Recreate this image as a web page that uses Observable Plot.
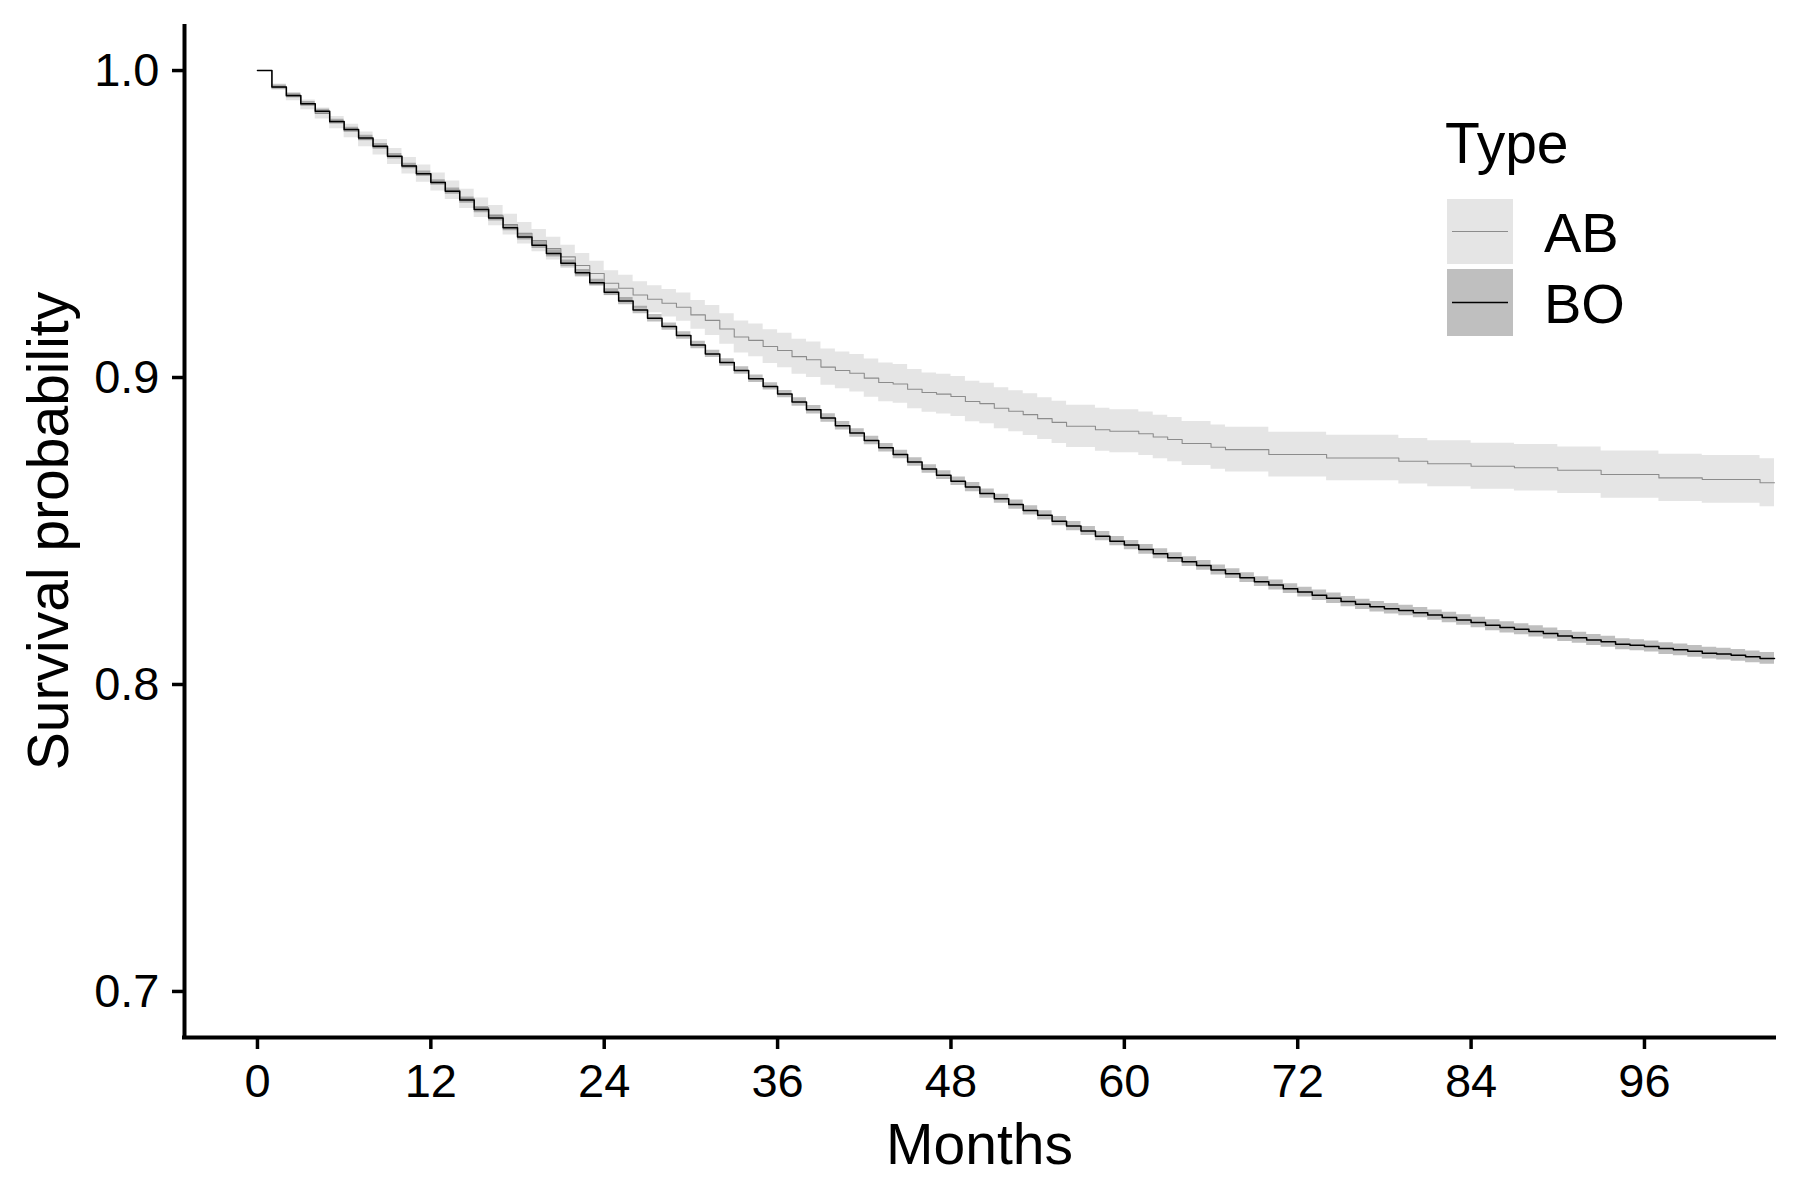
<!DOCTYPE html>
<html>
<head>
<meta charset="utf-8">
<script src="https://cdn.jsdelivr.net/npm/d3@7"></script>
<script src="https://cdn.jsdelivr.net/npm/@observablehq/plot@0.6"></script>
<style>
  html, body { margin: 0; padding: 0; background: #ffffff; }
  #wrap { position: relative; width: 1800px; height: 1200px; font-family: "Liberation Sans", Arial, sans-serif; }
  #legend { position: absolute; left: 0; top: 0; pointer-events: none; }
</style>
</head>
<body>
<div id="wrap"></div>
<script>
// ---------------- data ----------------
const xTicks = [0, 12, 24, 36, 48, 60, 72, 84, 96];
const yTicks = [0.7, 0.8, 0.9, 1.0];
const xDomain = [-5.05, 105];
const yDomain = [0.685, 1.015];
const groups = ["AB", "BO"];

const boMonths = [0,1,2,3,4,5,6,7,8,9,10,11,12,13,14,15,16,17,18,19,20,21,22,23,24,25,26,27,28,29,
  30,31,32,33,34,35,36,37,38,39,40,41,42,43,44,45,46,47,48,49,50,51,52,53,54,55,56,57,58,59,
  60,61,62,63,64,65,66,67,68,69,70,71,72,73,74,75,76,77,78,79,80,81,82,83,84,85,86,87,88,89,
  90,91,92,93,94,95,96,97,98,99,100,101,102,103,104,105];
const boSurv = [1.0000,0.9946,0.9919,0.9892,0.9867,0.9834,0.9808,0.9780,0.9753,0.9721,
  0.9689,0.9664,0.9635,0.9607,0.9578,0.9547,0.9520,0.9488,0.9458,0.9431,
  0.9404,0.9372,0.9341,0.9309,0.9278,0.9249,0.9220,0.9193,0.9166,0.9137,
  0.9106,0.9077,0.9049,0.9023,0.8996,0.8971,0.8946,0.8920,0.8895,0.8868,
  0.8843,0.8819,0.8795,0.8771,0.8749,0.8725,0.8702,0.8682,0.8662,0.8643,
  0.8622,0.8605,0.8586,0.8567,0.8551,0.8532,0.8516,0.8500,0.8483,0.8467,
  0.8454,0.8440,0.8426,0.8413,0.8400,0.8388,0.8373,0.8361,0.8348,0.8335,
  0.8324,0.8312,0.8301,0.8291,0.8281,0.8270,0.8261,0.8253,0.8247,0.8241,
  0.8234,0.8226,0.8218,0.8210,0.8202,0.8193,0.8186,0.8180,0.8173,0.8166,
  0.8158,0.8152,0.8145,0.8139,0.8131,0.8128,0.8124,0.8117,0.8113,0.8108,
  0.8102,0.8099,0.8095,0.8090,0.8085,0.8085];
const boUpper = [1.0000,0.9953,0.9926,0.9899,0.9874,0.9841,0.9815,0.9789,0.9762,0.9730,
  0.9698,0.9673,0.9644,0.9617,0.9588,0.9557,0.9530,0.9498,0.9468,0.9442,
  0.9415,0.9383,0.9352,0.9320,0.9289,0.9261,0.9232,0.9205,0.9178,0.9149,
  0.9118,0.9089,0.9061,0.9035,0.9008,0.8983,0.8958,0.8934,0.8909,0.8882,
  0.8857,0.8833,0.8809,0.8785,0.8763,0.8739,0.8716,0.8696,0.8676,0.8658,
  0.8637,0.8620,0.8601,0.8582,0.8566,0.8547,0.8531,0.8515,0.8498,0.8482,
  0.8469,0.8456,0.8442,0.8429,0.8416,0.8404,0.8389,0.8377,0.8364,0.8351,
  0.8340,0.8328,0.8317,0.8308,0.8298,0.8287,0.8278,0.8270,0.8264,0.8258,
  0.8251,0.8243,0.8235,0.8227,0.8219,0.8211,0.8204,0.8198,0.8191,0.8184,
  0.8176,0.8170,0.8163,0.8157,0.8149,0.8146,0.8142,0.8136,0.8132,0.8127,
  0.8121,0.8118,0.8114,0.8109,0.8104,0.8104];
const boLower = [1.0000,0.9939,0.9912,0.9885,0.9860,0.9827,0.9801,0.9771,0.9744,0.9712,
  0.9680,0.9655,0.9626,0.9597,0.9568,0.9537,0.9510,0.9478,0.9448,0.9420,
  0.9393,0.9361,0.9330,0.9298,0.9267,0.9237,0.9208,0.9181,0.9154,0.9125,
  0.9094,0.9065,0.9037,0.9011,0.8984,0.8959,0.8934,0.8906,0.8881,0.8854,
  0.8829,0.8805,0.8781,0.8757,0.8735,0.8711,0.8688,0.8668,0.8648,0.8628,
  0.8607,0.8590,0.8571,0.8552,0.8536,0.8517,0.8501,0.8485,0.8468,0.8452,
  0.8439,0.8424,0.8410,0.8397,0.8384,0.8372,0.8357,0.8345,0.8332,0.8319,
  0.8308,0.8296,0.8285,0.8274,0.8264,0.8253,0.8244,0.8236,0.8230,0.8224,
  0.8217,0.8209,0.8201,0.8193,0.8185,0.8175,0.8168,0.8162,0.8155,0.8148,
  0.8140,0.8134,0.8127,0.8121,0.8113,0.8110,0.8106,0.8098,0.8094,0.8089,
  0.8083,0.8080,0.8076,0.8071,0.8066,0.8066];

const abMonths = [0,1,2,3,4,5,6,7,8,9,10,11,12,13,14,15,16,17,18,19,20,21,22,23,24,25,26,27,28,29,
  30,31,32,33,34,35,36,37,38,39,40,41,42,43,44,45,46,47,48,49,50,51,52,53,54,55,56,
  58,59,61,62,63,64,66,67,70,74,79,81,84,87,90,93,97,100,104,105];
const abSurv = [1.0000,0.9946,0.9915,0.9888,0.9860,0.9830,0.9803,0.9776,0.9750,0.9720,
  0.9690,0.9664,0.9637,0.9610,0.9582,0.9553,0.9527,0.9498,0.9470,0.9446,
  0.9420,0.9393,0.9365,0.9339,0.9307,0.9291,0.9269,0.9255,0.9242,0.9229,
  0.9204,0.9186,0.9158,0.9132,0.9121,0.9101,0.9088,0.9068,0.9058,0.9034,
  0.9023,0.9014,0.8998,0.8984,0.8979,0.8962,0.8951,0.8946,0.8938,0.8922,
  0.8915,0.8900,0.8890,0.8879,0.8866,0.8854,0.8841,
  0.8830,0.8825,0.8817,0.8806,0.8798,0.8785,0.8773,0.8765,0.8749,0.8738,
  0.8727,0.8719,0.8711,0.8706,0.8698,0.8684,0.8673,0.8668,0.8657,0.8657];
const abUpper = [1.0000,0.9956,0.9928,0.9904,0.9878,0.9850,0.9825,0.9800,0.9775,0.9746,
  0.9717,0.9692,0.9666,0.9640,0.9613,0.9585,0.9560,0.9532,0.9505,0.9482,
  0.9457,0.9431,0.9404,0.9379,0.9348,0.9333,0.9312,0.9299,0.9287,0.9275,
  0.9251,0.9235,0.9208,0.9184,0.9174,0.9156,0.9144,0.9125,0.9116,0.9093,
  0.9083,0.9075,0.9060,0.9047,0.9042,0.9026,0.9015,0.9011,0.9003,0.8988,
  0.8981,0.8967,0.8957,0.8947,0.8934,0.8923,0.8910,
  0.8900,0.8895,0.8888,0.8877,0.8870,0.8857,0.8845,0.8838,0.8822,0.8812,
  0.8801,0.8794,0.8786,0.8782,0.8774,0.8761,0.8750,0.8746,0.8735,0.8735];
const abLower = [1.0000,0.9936,0.9902,0.9872,0.9842,0.9810,0.9781,0.9752,0.9725,0.9694,
  0.9663,0.9636,0.9608,0.9580,0.9551,0.9521,0.9494,0.9464,0.9435,0.9410,
  0.9383,0.9355,0.9326,0.9299,0.9266,0.9249,0.9226,0.9211,0.9197,0.9183,
  0.9157,0.9137,0.9108,0.9080,0.9068,0.9046,0.9032,0.9011,0.9000,0.8975,
  0.8963,0.8953,0.8936,0.8921,0.8916,0.8898,0.8887,0.8881,0.8873,0.8856,
  0.8849,0.8833,0.8823,0.8811,0.8798,0.8785,0.8772,
  0.8760,0.8755,0.8746,0.8735,0.8726,0.8713,0.8701,0.8692,0.8676,0.8664,
  0.8653,0.8644,0.8636,0.8630,0.8622,0.8607,0.8596,0.8590,0.8579,0.8579];

// ---------------- styling ----------------
const FONT = "'Liberation Sans', Arial, sans-serif";
const lineColor = {AB: "#8c8c8c", BO: "#000000"};
const bandColor = {AB: "#999999", BO: "#000000"};
const bandAlpha = 0.25;

const abTable = abMonths.map((t, i) => ({group: "AB", t, s: abSurv[i], lo: abLower[i], hi: abUpper[i]}));
const boTable = boMonths.map((t, i) => ({group: "BO", t, s: boSurv[i], lo: boLower[i], hi: boUpper[i]}));

const chart = Plot.plot({
  width: 1800,
  height: 1200,
  marginLeft: 184,
  marginRight: 26,
  marginTop: 24,
  marginBottom: 163,
  style: {fontFamily: FONT, fontSize: "47px", color: "#000", background: "transparent"},
  x: {domain: xDomain},
  y: {domain: yDomain},
  marks: [
    Plot.areaY(abTable, {x: "t", y1: "lo", y2: "hi", curve: "step-after", fill: bandColor.AB, fillOpacity: bandAlpha}),
    Plot.areaY(boTable, {x: "t", y1: "lo", y2: "hi", curve: "step-after", fill: bandColor.BO, fillOpacity: bandAlpha}),
    Plot.line(abTable, {x: "t", y: "s", curve: "step-after", stroke: lineColor.AB, strokeWidth: 1.1}),
    Plot.line(boTable, {x: "t", y: "s", curve: "step-after", stroke: lineColor.BO, strokeWidth: 1.5}),
    Plot.axisX({ticks: xTicks, tickSize: 12, tickPadding: 14, strokeWidth: 3.5, label: null, tickFormat: d => String(d)}),
    Plot.axisY({ticks: yTicks, tickSize: 12, tickPadding: 13, strokeWidth: 3.5, label: null, tickFormat: d3.format(".1f")}),
    Plot.ruleX([xDomain[0]], {stroke: "#000", strokeWidth: 4}),
    Plot.ruleY([yDomain[0]], {stroke: "#000", strokeWidth: 4, strokeLinecap: "square"}),
    Plot.text(["Months"], {frameAnchor: "bottom", lineAnchor: "top", dy: 86, fontSize: 57, fill: "#000"}),
    Plot.text(["Survival probability"], {frameAnchor: "left", textAnchor: "middle", lineAnchor: "top", rotate: -90, dx: -157, fontSize: 57, fill: "#000"})
  ]
});

const wrap = document.getElementById("wrap");
wrap.appendChild(chart);

// ---------------- legend (drawn on top, inside plot area) ----------------
const ns = "http://www.w3.org/2000/svg";
const leg = document.createElementNS(ns, "svg");
leg.setAttribute("id", "legend");
leg.setAttribute("width", 1800);
leg.setAttribute("height", 1200);
leg.setAttribute("font-family", FONT);
function el(tag, attrs, text) {
  const e = document.createElementNS(ns, tag);
  for (const k in attrs) e.setAttribute(k, attrs[k]);
  if (text != null) e.textContent = text;
  leg.appendChild(e);
  return e;
}
el("text", {x: 1445, y: 163, "font-size": 57, fill: "#000"}, "Type");
const keyTop = [199, 269];
const keyH = [65, 67];
groups.forEach((g, i) => {
  el("rect", {x: 1447, y: keyTop[i], width: 66, height: keyH[i], fill: "#fff"});
  el("rect", {x: 1447, y: keyTop[i], width: 66, height: keyH[i], fill: bandColor[g], "fill-opacity": bandAlpha});
  const cy = keyTop[i] + keyH[i] / 2;
  el("line", {x1: 1452, x2: 1508, y1: cy, y2: cy, stroke: lineColor[g], "stroke-width": g === "AB" ? 1.1 : 1.5});
  el("text", {x: 1544, y: keyTop[i] + keyH[i] / 2 + 20, "font-size": 56, fill: "#000"}, g);
});
wrap.appendChild(leg);
chart.style.position = "absolute";
chart.style.left = "0";
chart.style.top = "0";
</script>
</body>
</html>
